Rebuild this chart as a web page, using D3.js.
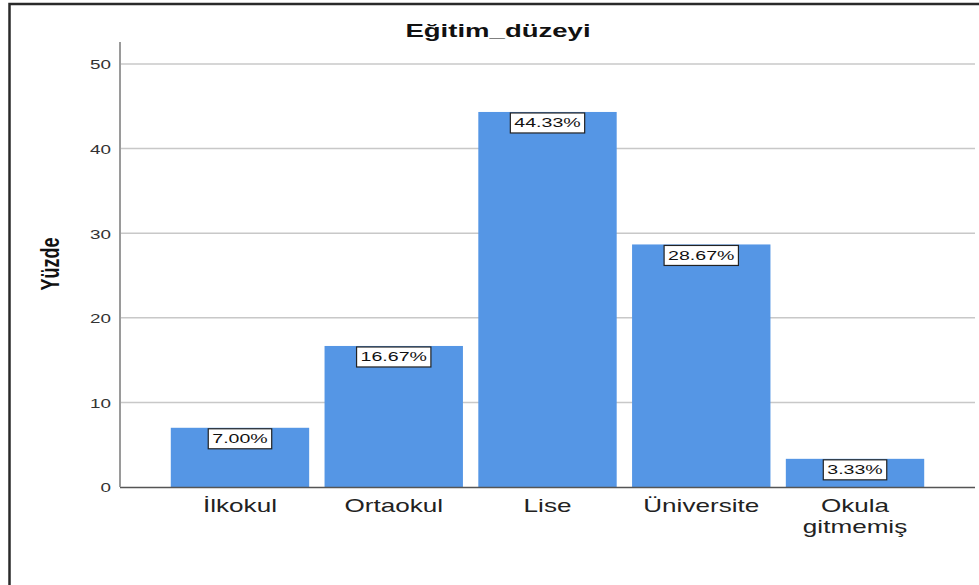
<!DOCTYPE html>
<html>
<head>
<meta charset="utf-8">
<script src="https://cdn.jsdelivr.net/npm/d3@7"></script>
<style>
  html, body { margin: 0; padding: 0; background: #fff; }
  svg { display: block; }
  text { font-family: Arial, "Liberation Sans", sans-serif; }
</style>
</head>
<body>
<script>
const title = "Eğitim_düzeyi";
const yTitle = "Yüzde";
const categories = ["İlkokul", "Ortaokul", "Lise", "Üniversite", "Okula gitmemiş"];
const percents = [7.00, 16.67, 44.33, 28.67, 3.33];
const yTicks = [0, 10, 20, 30, 40, 50];

const W = 979, H = 585, SX = 1.45;
const svg = d3.select("body").append("svg").attr("width", W).attr("height", H);

// outer frame (top + left)
svg.append("path")
  .attr("d", `M9.5,${H} L9.5,4 L${W},4`)
  .attr("fill", "none").attr("stroke", "#2a2a2a").attr("stroke-width", 2.5);

const plotL = 120, plotR = 975, plotT = 42, plotB = 487;

const y = d3.scaleLinear().domain([0, 52.6]).range([plotB, plotT]);
const x = d3.scaleBand().domain(categories).range([163.1, 931.9]).paddingInner(0.1).paddingOuter(0.05);

// gridlines
svg.append("g").selectAll("line").data(yTicks.filter(d => d > 0)).join("line")
  .attr("x1", plotL).attr("x2", plotR)
  .attr("y1", d => y(d)).attr("y2", d => y(d))
  .attr("stroke", "#c8c8c8").attr("stroke-width", 1.5);

// bars
svg.append("g").selectAll("rect").data(percents).join("rect")
  .attr("x", (d, i) => x(categories[i]))
  .attr("width", x.bandwidth())
  .attr("y", d => y(d))
  .attr("height", d => y(0) - y(d))
  .attr("fill", "#5596e5");

// baseline
svg.append("line").attr("x1", plotL).attr("x2", plotR)
  .attr("y1", plotB + 0.5).attr("y2", plotB + 0.5)
  .attr("stroke", "#555").attr("stroke-width", 1.5);

// y axis
const yAxis = svg.append("g").attr("transform", `translate(${plotL},0)`)
  .call(d3.axisLeft(y).tickValues(yTicks).tickSize(0).tickPadding(0));
yAxis.select(".domain").remove();
svg.append("line").attr("x1", plotL).attr("x2", plotL).attr("y1", plotT).attr("y2", plotB)
  .attr("stroke", "#9a9a9a").attr("stroke-width", 2);
yAxis.selectAll("text")
  .attr("x", null).attr("dy", null)
  .attr("transform", `translate(-9,0) scale(${SX},1)`)
  .attr("dominant-baseline", "central")
  .attr("font-size", 13).attr("fill", "#333").attr("text-anchor", "end");

// x axis
const xAxis = svg.append("g").attr("transform", `translate(0,${plotB})`)
  .call(d3.axisBottom(x).tickSize(0));
xAxis.select(".domain").remove();
xAxis.selectAll("text").each(function (d) {
  const t = d3.select(this);
  t.text(null).attr("y", 0).attr("dy", null)
    .attr("transform", `translate(0,25) scale(${SX},1)`)
    .attr("font-size", 18).attr("fill", "#222").attr("text-anchor", "middle");
  d.split(" ").forEach((w, i) => {
    t.append("tspan").attr("x", 0).attr("dy", i === 0 ? 0 : 21).text(w);
  });
});

// value labels
const lab = svg.append("g").selectAll("g").data(percents).join("g")
  .attr("transform", (d, i) => `translate(${x(categories[i]) + x.bandwidth() / 2},${y(d) + 1})`);
lab.each(function (d) {
  const g = d3.select(this);
  const rect = g.append("rect");
  const t = g.append("text")
    .attr("transform", `translate(0,14.5) scale(${SX},1)`)
    .attr("text-anchor", "middle").attr("font-size", 13.5).attr("fill", "#111")
    .text(d.toFixed(2) + "%");
  const w = t.node().getComputedTextLength() * SX + 8;
  rect.attr("x", -w / 2).attr("y", 0).attr("width", w).attr("height", 20)
    .attr("fill", "#fff").attr("stroke", "#222").attr("stroke-width", 1.2);
});

// title
svg.append("text")
  .attr("transform", `translate(498,37) scale(${SX},1)`)
  .attr("text-anchor", "middle").attr("font-size", 19).attr("font-weight", "bold").attr("fill", "#111")
  .text(title);

// y title
svg.append("text")
  .attr("transform", `translate(50,264) scale(${SX},1) rotate(-90)`)
  .attr("text-anchor", "middle").attr("dominant-baseline", "central")
  .attr("font-size", 18).attr("font-weight", "bold").attr("fill", "#111")
  .text(yTitle);
</script>
</body>
</html>
